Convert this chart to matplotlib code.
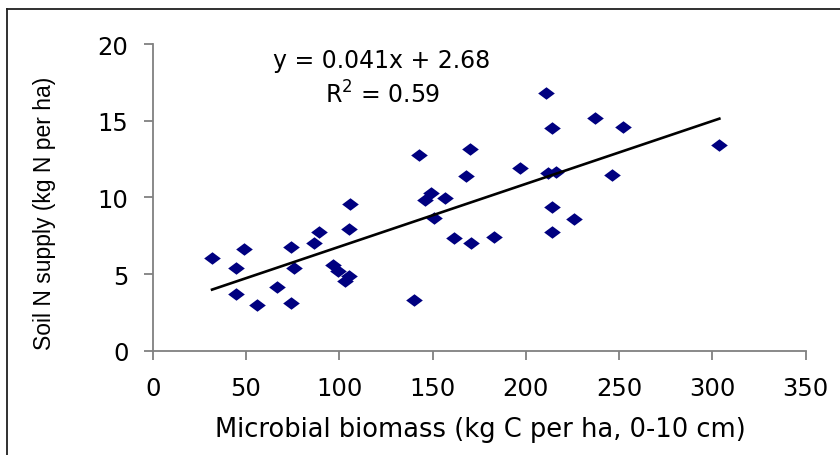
import numpy as np
import matplotlib
matplotlib.use("Agg")
import matplotlib.pyplot as plt
from matplotlib.lines import Line2D

plt.rcParams['font.family'] = ['DejaVu Sans']

# microbial biomass (kg C per ha, 0-10 cm)
biomass = [31.8, 44.8, 49.1, 44.8, 55.7, 66.8, 73.9, 75.9, 73.9, 86.6,
           88.9, 96.4, 99.4, 103.0, 105.2, 105.0, 105.7, 140.0, 142.8, 146.1,
           149.1, 150.9, 156.8, 161.6, 167.8, 169.8, 170.7, 182.8, 196.8, 210.7,
           211.8, 216.0, 213.9, 213.9, 213.9, 225.9, 236.8, 245.9, 251.8, 303.7]
# soil N supply (kg N per ha)
n_supply = [6.03, 5.42, 6.63, 3.70, 3.00, 4.13, 6.74, 5.42, 3.11, 7.00,
            7.76, 5.61, 5.22, 4.52, 4.87, 7.94, 9.55, 3.33, 12.77, 9.85,
            10.29, 8.63, 9.96, 7.35, 11.37, 13.18, 7.05, 7.44, 11.90, 16.81,
            11.57, 11.64, 14.50, 9.35, 7.76, 8.57, 15.20, 11.48, 14.59, 13.40]

slope = 0.041
intercept = 2.68
r2 = 0.59

x_ticks = [0, 50, 100, 150, 200, 250, 300, 350]
y_ticks = [0, 5, 10, 15, 20]

fig = plt.figure(figsize=(8.4, 4.56), dpi=100)
ax = fig.add_axes([0.1818, 0.2287, 0.9592 - 0.1818, 0.9013 - 0.2287])

diamond = [(-1, 0), (0, 0.75), (1, 0), (0, -0.75), (-1, 0)]
ax.plot(biomass, n_supply, linestyle='none', marker=diamond, markersize=12,
        color='#000080', markeredgewidth=0, zorder=3)

xs = np.array([min(biomass), max(biomass)])
ax.plot(xs, slope * xs + intercept, color='black', linewidth=1.9, zorder=4)

ax.set_xlim(0, 350)
ax.set_ylim(0, 20)
ax.set_xticks(x_ticks)
ax.set_yticks(y_ticks)

for side in ['top', 'right']:
    ax.spines[side].set_visible(False)
for side in ['left', 'bottom']:
    ax.spines[side].set_color('#808080')
    ax.spines[side].set_linewidth(1.3)
ax.tick_params(axis='both', direction='out', length=6.5, width=1.3,
               color='#808080', labelsize=17.5, labelcolor='black')
ax.tick_params(axis='x', pad=12)
ax.tick_params(axis='y', pad=11)

ax.text(122.8, 18.98, f"y = {slope}x + {intercept}", fontsize=17,
        ha='center', va='center')
ax.text(122.8, 16.75, "R$^2$ = " + f"{r2}", fontsize=17,
        ha='center', va='center')

fig.text(480 / 840, 1 - 430 / 456, "Microbial biomass (kg C per ha, 0-10 cm)",
         fontsize=18.5, ha='center', va='center')
fig.text(45 / 840, 1 - 213 / 456, "Soil N supply (kg N per ha)",
         fontsize=16.5, ha='center', va='center', rotation=90,
         family=['Liberation Sans', 'DejaVu Sans'])

# outer chart frame
fig.add_artist(Line2D([7 / 840, 7 / 840], [0, 1 - 10 / 456], transform=fig.transFigure,
                      color='#202020', linewidth=1.3))
fig.add_artist(Line2D([7 / 840, 1], [1 - 10 / 456, 1 - 10 / 456], transform=fig.transFigure,
                      color='#202020', linewidth=1.3))

fig.savefig("out.png", dpi=100)
